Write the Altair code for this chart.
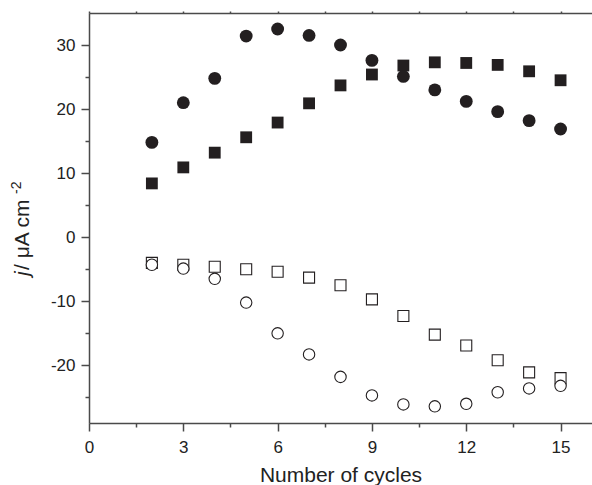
import altair as alt
import pandas as pd

cycles = list(range(2, 16))
filled_circle = [14.8, 21.0, 24.8, 31.4, 32.5, 31.5, 30.0, 27.6, 25.1, 23.0, 21.2, 19.6, 18.2, 16.9]
filled_square = [8.4, 10.9, 13.2, 15.6, 17.9, 20.9, 23.7, 25.4, 26.8, 27.3, 27.2, 26.9, 25.9, 24.5]
open_square = [-4.0, -4.3, -4.6, -5.0, -5.4, -6.3, -7.5, -9.7, -12.3, -15.2, -16.9, -19.2, -21.1, -22.0]
open_circle = [-4.3, -4.9, -6.5, -10.2, -15.0, -18.3, -21.8, -24.7, -26.1, -26.4, -26.0, -24.2, -23.6, -23.2]

x_major = [0, 3, 6, 9, 12, 15]
x_minor = [1.5, 4.5, 7.5, 10.5, 13.5]
x_top = [0, 1.5, 3, 4.5, 6, 7.5, 9, 10.5, 12, 13.5, 15]
y_major = [-20, -10, 0, 10, 20, 30]
y_minor = [-25, -15, -5, 5, 15, 25]

rows = []
for name, vals in [("fc", filled_circle), ("fs", filled_square), ("os", open_square), ("oc", open_circle)]:
    for c, v in zip(cycles, vals):
        rows.append({"cycle": c, "j": v, "series": name})
df = pd.DataFrame(rows)

INK = "#231f20"
AX = "#4a4a4a"
TXT = "#222222"
FONT = "Liberation Sans"

xs = alt.Scale(domain=[0, 16], nice=False, zero=False)
ys = alt.Scale(domain=[-29, 35], nice=False, zero=False)

base = alt.Chart(df)

def X(axis):
    return alt.X("cycle:Q", scale=xs, axis=axis)

def Y(axis):
    return alt.Y("j:Q", scale=ys, axis=axis)

major_x = alt.Axis(orient="bottom", values=x_major, tickSize=8, labelPadding=8, title="Number of cycles",
                   titlePadding=9, domainColor=AX, domainWidth=1.5, tickColor=AX, tickWidth=1.5,
                   labelFont=FONT, labelFontSize=17, labelColor=TXT, titleFont=FONT, titleFontSize=21,
                   titleFontWeight="normal", titleColor=TXT, grid=False, labelExpr="'' + datum.value",
                   labelFlush=False)
major_y = alt.Axis(orient="left", values=y_major, tickSize=8, labelPadding=6, title=None,
                   domainColor=AX, domainWidth=1.5, tickColor=AX, tickWidth=1.5,
                   labelFont=FONT, labelFontSize=17, labelColor=TXT, grid=False,
                   labelExpr="'' + datum.value")

l_fs = base.transform_filter("datum.series == 'fs'").mark_point(
    shape="square", filled=True, size=140, color=INK, opacity=1).encode(x=X(major_x), y=Y(major_y))
l_fc = base.transform_filter("datum.series == 'fc'").mark_point(
    shape="circle", filled=True, size=165, color=INK, opacity=1).encode(x=X(None), y=Y(None))
l_os = base.transform_filter("datum.series == 'os'").mark_point(
    shape="square", filled=False, size=121, stroke=INK, fill="white", fillOpacity=1, strokeWidth=1.1,
    opacity=1).encode(x=X(None), y=Y(None))
l_oc = base.transform_filter("datum.series == 'oc'").mark_point(
    shape="circle", filled=False, size=130, stroke=INK, fill="white", fillOpacity=1, strokeWidth=1.1,
    opacity=1).encode(x=X(None), y=Y(None))

minor_x = alt.Axis(orient="bottom", values=x_minor, tickSize=4, labels=False, domain=False, title=None,
                   tickColor=AX, tickWidth=1.5, grid=False)
minor_y = alt.Axis(orient="left", values=y_minor, tickSize=4, labels=False, domain=False, title=None,
                   tickColor=AX, tickWidth=1.5, grid=False)
l_minor = base.mark_point(opacity=0).encode(x=X(minor_x), y=Y(minor_y))

top_x = alt.Axis(orient="top", values=x_top, tickSize=2, labels=False, title=None, domainColor=AX,
                 domainWidth=1.5, tickColor=AX, tickWidth=1.5, grid=False)
l_top = base.mark_point(opacity=0).encode(x=X(top_x), y=Y(None))

tdf = pd.DataFrame({"a": [0]})
t_j = alt.Chart(tdf).mark_text(text="j", font=FONT, fontSize=21, fontStyle="italic", angle=270,
                               align="left", baseline="middle", color=TXT).encode(
    x=alt.value(-66), y=alt.value(263))
t_rest = alt.Chart(tdf).mark_text(text=" / \u03bcA cm", font=FONT, fontSize=21, angle=270,
                                  align="left", baseline="middle", color=TXT).encode(
    x=alt.value(-66), y=alt.value(257))
t_sup = alt.Chart(tdf).mark_text(text="-2", font=FONT, fontSize=14, angle=270,
                                 align="left", baseline="middle", color=TXT).encode(
    x=alt.value(-72), y=alt.value(181))

chart = alt.layer(l_minor, l_top, l_fs, l_fc, l_os, l_oc, t_j, t_rest, t_sup).resolve_axis(
    x="independent", y="independent").properties(
    width=503, height=410,
    padding={"left": 89, "top": 13, "right": 0, "bottom": 62},
    autosize=alt.AutoSizeParams(type="none"),
).configure_view(stroke=None).configure(background="white")

chart.save("out.html", embed_options={"renderer": "svg", "actions": False})
